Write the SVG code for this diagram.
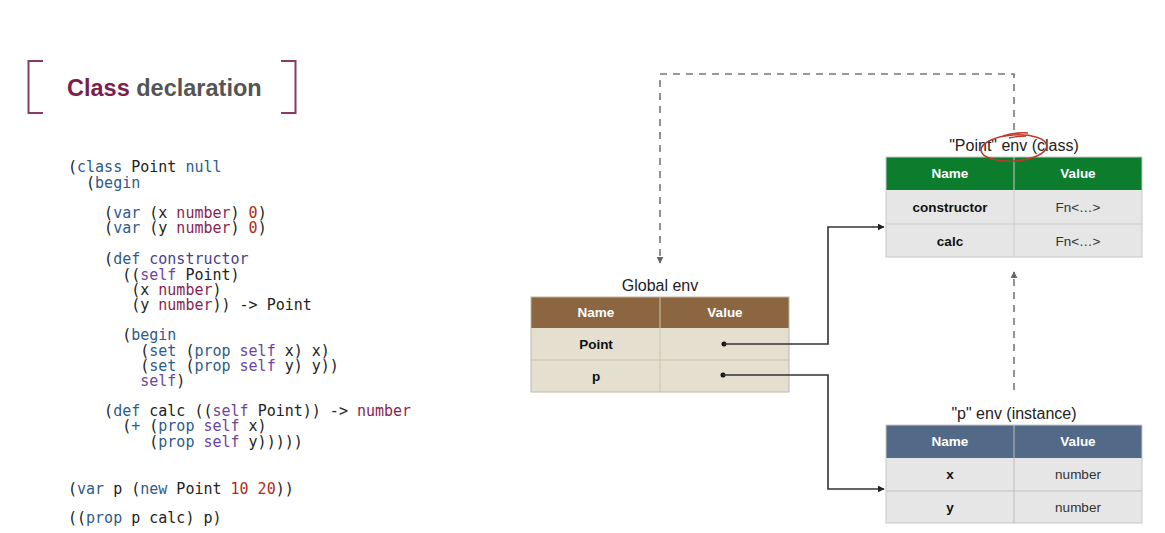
<svg xmlns="http://www.w3.org/2000/svg" width="1165" height="533" viewBox="0 0 1165 533">
<defs>
<style>
.code text{font-family:"DejaVu Sans Mono",monospace;font-size:15px;fill:#222;white-space:pre}
.code .k{fill:#2d5b8c}.code .t{fill:#8a1f52}.code .n{fill:#b22a1e}.code .s{fill:#6b46a0}.code .f{fill:#493d8f}
.ttl{font-family:"Liberation Sans",Arial,sans-serif;font-size:16px;fill:#222;text-anchor:middle}
.hd{font-family:"Liberation Sans",Arial,sans-serif;font-size:13.5px;font-weight:bold;fill:#fff;text-anchor:middle}
.nm{font-family:"Liberation Sans",Arial,sans-serif;font-size:13.5px;font-weight:bold;fill:#111;text-anchor:middle}
.vl{font-family:"Liberation Sans",Arial,sans-serif;font-size:13.5px;fill:#333;text-anchor:middle}
.conn{fill:none;stroke:#333;stroke-width:1.6}
.dash{fill:none;stroke:#777;stroke-width:1.6;stroke-dasharray:7 6}
.brk{fill:none;stroke:#8a3a64;stroke-width:2}
</style>
<marker id="ah" viewBox="0 0 10 10" refX="9" refY="5" markerWidth="7" markerHeight="7" markerUnits="userSpaceOnUse" orient="auto"><path d="M0,0 L10,5 L0,10 z" fill="#222"/></marker>
<marker id="ahg" viewBox="0 0 10 10" refX="9" refY="5" markerWidth="7" markerHeight="7" markerUnits="userSpaceOnUse" orient="auto"><path d="M0,0 L10,5 L0,10 z" fill="#666"/></marker>
</defs>
<rect width="1165" height="533" fill="#fff"/>

<g id="title">
<path class="brk" d="M43,61 H28.5 V113 H43"/>
<path class="brk" d="M281,61 H295.5 V113 H281"/>
<text x="67" y="96" font-family="Liberation Sans,Arial,sans-serif" font-size="23.5" font-weight="bold"><tspan fill="#7a1e4a">Class</tspan><tspan fill="#555"> declaration</tspan></text>
</g>

<g id="code" class="code">
<text x="68" y="172">(</text><text class="k" x="77.03" y="172">class</text><text x="131.21" y="172">Point</text><text class="k" x="185.39" y="172">null</text>
<text x="86.06" y="188">(</text><text class="k" x="95.09" y="188">begin</text>
<text x="104.12" y="218">(</text><text class="k" x="113.15" y="218">var</text><text x="149.27" y="218">(x</text><text class="t" x="176.36" y="218">number</text><text x="230.54" y="218">)</text><text class="n" x="248.6" y="218">0</text><text x="257.63" y="218">)</text>
<text x="104.12" y="233">(</text><text class="k" x="113.15" y="233">var</text><text x="149.27" y="233">(y</text><text class="t" x="176.36" y="233">number</text><text x="230.54" y="233">)</text><text class="n" x="248.6" y="233">0</text><text x="257.63" y="233">)</text>
<text x="104.12" y="264">(</text><text class="k" x="113.15" y="264">def</text><text class="f" x="149.27" y="264">constructor</text>
<text x="122.18" y="280">((</text><text class="s" x="140.24" y="280">self</text><text x="185.39" y="280">Point)</text>
<text x="131.21" y="295">(x</text><text class="t" x="158.3" y="295">number</text><text x="212.48" y="295">)</text>
<text x="131.21" y="310">(y</text><text class="t" x="158.3" y="310">number</text><text x="212.48" y="310">)) -&gt; Point</text>
<text x="122.18" y="340">(</text><text class="k" x="131.21" y="340">begin</text>
<text x="140.24" y="356">(</text><text class="k" x="149.27" y="356">set</text><text x="185.39" y="356">(</text><text class="k" x="194.42" y="356">prop</text><text class="s" x="239.57" y="356">self</text><text x="284.72" y="356">x) x)</text>
<text x="140.24" y="371">(</text><text class="k" x="149.27" y="371">set</text><text x="185.39" y="371">(</text><text class="k" x="194.42" y="371">prop</text><text class="s" x="239.57" y="371">self</text><text x="284.72" y="371">y) y))</text>
<text class="s" x="140.24" y="386">self</text><text x="176.36" y="386">)</text>
<text x="104.12" y="416">(</text><text class="k" x="113.15" y="416">def</text><text x="149.27" y="416">calc ((</text><text class="s" x="212.48" y="416">self</text><text x="257.63" y="416">Point)) -&gt;</text><text class="t" x="356.96" y="416">number</text>
<text x="122.18" y="431">(</text><text class="k" x="131.21" y="431">+</text><text x="149.27" y="431">(</text><text class="k" x="158.3" y="431">prop</text><text class="s" x="203.45" y="431">self</text><text x="248.6" y="431">x)</text>
<text x="149.27" y="447">(</text><text class="k" x="158.3" y="447">prop</text><text class="s" x="203.45" y="447">self</text><text x="248.6" y="447">y)))))</text>
<text x="68" y="494">(</text><text class="k" x="77.03" y="494">var</text><text x="113.15" y="494">p (</text><text class="k" x="140.24" y="494">new</text><text x="176.36" y="494">Point</text><text class="n" x="230.54" y="494">10 20</text><text x="275.69" y="494">))</text>
<text x="68" y="523">((</text><text class="k" x="86.06" y="523">prop</text><text x="131.21" y="523">p calc) p)</text>
</g>

<g id="global-env">
<text class="ttl" x="660" y="291">Global env</text>
<rect x="531" y="297" width="258" height="31" fill="#8b6640"/>
<rect x="531" y="328" width="258" height="64" fill="#e4dfcf"/>
<path d="M531,360 H789 M660,297 V392" stroke="#c9c3b1" stroke-width="1" fill="none"/>
<rect x="531" y="297" width="258" height="95" fill="none" stroke="#bdb7a6" stroke-width="1"/>
<text class="hd" x="596" y="317">Name</text>
<text class="hd" x="725" y="317">Value</text>
<text class="nm" x="596" y="349">Point</text>
<text class="nm" x="596" y="381">p</text>
<circle cx="724" cy="344" r="2.5" fill="#111"/>
<circle cx="723" cy="375" r="2.5" fill="#111"/>
</g>

<g id="point-env">
<text class="ttl" x="1014" y="151">"Point" env (class)</text>
<rect x="886" y="157" width="256" height="33" fill="#0b7d2d"/>
<rect x="886" y="190" width="256" height="67" fill="#e6e6e6"/>
<path d="M886,224 H1142 M1014,157 V257" stroke="#cccccc" stroke-width="1" fill="none"/>
<rect x="886" y="157" width="256" height="100" fill="none" stroke="#c8c8c8" stroke-width="1"/>
<text class="hd" x="950" y="178">Name</text>
<text class="hd" x="1078" y="178">Value</text>
<text class="nm" x="950" y="212">constructor</text>
<text class="vl" x="1078" y="212">Fn&lt;…&gt;</text>
<text class="nm" x="950" y="246">calc</text>
<text class="vl" x="1078" y="246">Fn&lt;…&gt;</text>
</g>

<g id="p-env">
<text class="ttl" x="1014" y="419">"p" env (instance)</text>
<rect x="886" y="425" width="256" height="33" fill="#526a88"/>
<rect x="886" y="458" width="256" height="65" fill="#e6e6e6"/>
<path d="M886,491 H1142 M1014,425 V523" stroke="#bdbdbd" stroke-width="1" fill="none"/>
<rect x="886" y="425" width="256" height="98" fill="none" stroke="#c8c8c8" stroke-width="1"/>
<text class="hd" x="950" y="446">Name</text>
<text class="hd" x="1078" y="446">Value</text>
<text class="nm" x="950" y="479">x</text>
<text class="vl" x="1078" y="479">number</text>
<text class="nm" x="950" y="512">y</text>
<text class="vl" x="1078" y="512">number</text>
</g>

<g id="annotation" fill="none" stroke="#c0392b" stroke-width="1.6">
<ellipse cx="1014" cy="148" rx="33" ry="13" transform="rotate(-4 1014 148)"/>
<path d="M1003,136 Q1015,132 1028,133 M1009,138 Q1018,136 1026,136"/>
</g>

<g id="connectors">
<path class="conn" d="M724,344 H828 V227 H884" marker-end="url(#ah)"/>
<path class="conn" d="M723,375 H828 V489 H884" marker-end="url(#ah)"/>
<path class="dash" d="M1014,130 V74 H660 V263" marker-end="url(#ahg)"/>
<path class="dash" d="M1014,390 V272" marker-end="url(#ahg)"/>
</g>
</svg>
